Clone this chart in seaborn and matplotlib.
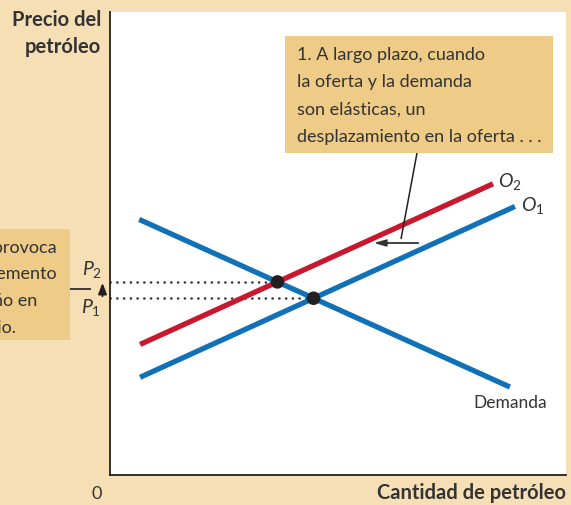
import numpy as np
import pandas as pd
import seaborn as sns
import matplotlib.pyplot as plt
from matplotlib.patches import Rectangle

# endpoints of the three curves (quantity, price) on a 0-10 scale
demand_q = [0.64, 8.77]
demand_p = [5.52, 1.90]
o1_q = [0.66, 8.88]
o1_p = [2.11, 5.80]
o2_q = [0.66, 8.40]
o2_p = [2.82, 6.29]

curve_names = ['Demanda', 'O1', 'O2']
top_note = ['1. A largo plazo, cuando', 'la oferta y la demanda',
            'son elásticas, un', 'desplazamiento en la oferta . . .']
left_note = ['2. . . . provoca', 'un incremento', 'pequeño en', 'el precio.']

BG = '#f6dfb5'
BOX = '#eecb86'
BLUE = '#1071b8'
RED = '#c8172e'
INK = '#333333'

sns.set_style('white')
plt.rcParams['font.family'] = ['Lato', 'DejaVu Sans']
plt.rcParams['mathtext.fontset'] = 'custom'
plt.rcParams['mathtext.it'] = 'Lato:italic'
plt.rcParams['mathtext.rm'] = 'Lato'
plt.rcParams['lines.solid_capstyle'] = 'butt'

df = pd.concat([
    pd.DataFrame({'q': demand_q, 'p': demand_p, 'curva': 'Demanda'}),
    pd.DataFrame({'q': o1_q, 'p': o1_p, 'curva': 'O1'}),
    pd.DataFrame({'q': o2_q, 'p': o2_p, 'curva': 'O2'}),
])


def line_coef(q, p):
    m = (p[1] - p[0]) / (q[1] - q[0])
    return m, p[0] - m * q[0]


def cross(a, b):
    m1, b1 = line_coef(*a)
    m2, b2 = line_coef(*b)
    x = (b2 - b1) / (m1 - m2)
    return x, m1 * x + b1


eq1 = cross((demand_q, demand_p), (o1_q, o1_p))
eq2 = cross((demand_q, demand_p), (o2_q, o2_p))
eq = pd.DataFrame({'q': [eq1[0], eq2[0]], 'p': [eq1[1], eq2[1]]})

W, H = 571, 505
fig = plt.figure(figsize=(W / 100, H / 100), dpi=100, facecolor=BG)
ax = fig.add_axes([110 / W, 30 / H, 456 / W, 463 / H])
ax.set_facecolor('white')


def fp(x, y):
    return x / W, 1 - y / H


sns.lineplot(data=df, x='q', y='p', hue='curva', units='curva', estimator=None,
             palette={'Demanda': BLUE, 'O1': BLUE, 'O2': RED},
             linewidth=3.8, legend=False, sort=False, ax=ax)

for xq, yp in [eq1, eq2]:
    ax.plot([0, xq], [yp, yp], color=INK, lw=1.8, linestyle=(0, (0.1, 2.6)),
            dash_capstyle='round', zorder=1)

sns.scatterplot(data=eq, x='q', y='p', s=95, color='#231f20', edgecolor='none',
                zorder=5, ax=ax)

ax.set_xlim(0, 10)
ax.set_ylim(0, 10)
ax.set_xticks([])
ax.set_yticks([])
ax.set_xlabel('')
ax.set_ylabel('')
for s in ['top', 'right']:
    ax.spines[s].set_visible(False)
for s in ['left', 'bottom']:
    ax.spines[s].set_color('#231f20')
    ax.spines[s].set_linewidth(1.3)

# curve labels
ax.text(8.77 + 0.0, 1.90 - 0.35, 'Demanda', ha='center', va='center',
        fontsize=12.5, color=INK)
fig.text(*fp(498, 182), r'$O_2$', fontsize=14, color=INK, ha='left', va='center')
fig.text(*fp(521, 205), r'$O_1$', fontsize=14, color=INK, ha='left', va='center')

# axis labels
fig.text(*fp(101, 20), 'Precio del', ha='right', va='center', fontsize=14.5,
         fontweight='bold', color=INK)
fig.text(*fp(101, 47), 'petróleo', ha='right', va='center', fontsize=14.5,
         fontweight='bold', color=INK)
fig.text(*fp(566, 493), 'Cantidad de petróleo', ha='right', va='center',
         fontsize=14.5, fontweight='bold', color=INK)
fig.text(*fp(97, 494), '0', ha='center', va='center', fontsize=13, color=INK)

# price labels with small arrow
fig.text(*fp(92, 270), r'$P_2$', ha='center', va='center', fontsize=14, color=INK)
fig.text(*fp(91, 307), r'$P_1$', ha='center', va='center', fontsize=14, color=INK)
ax.annotate('', xy=fp(102.5, 280), xycoords='figure fraction',
            xytext=fp(102.5, 299), textcoords='figure fraction',
            arrowprops=dict(arrowstyle='-|>,head_length=0.65,head_width=0.25',
                            color='#231f20', lw=1.4), annotation_clip=False)
fig.add_artist(plt.Line2D([70 / W, 91 / W], [1 - 289 / H, 1 - 289 / H],
                          color='#231f20', lw=1.2))

# top note box
fig.add_artist(Rectangle(fp(285, 153), 268 / W, 117 / H, facecolor=BOX,
                         edgecolor='none', transform=fig.transFigure, zorder=3))
for i, line in enumerate(top_note):
    fig.text(*fp(297, 55 + 27.3 * i), line, ha='left', va='center',
             fontsize=13, color=INK, zorder=4)
fig.add_artist(plt.Line2D([417 / W, 401 / W], [1 - 153 / H, 1 - 239 / H],
                          color='#231f20', lw=1.1))
ax.annotate('', xy=fp(371, 243), xycoords='figure fraction',
            xytext=fp(421, 243), textcoords='figure fraction',
            arrowprops=dict(arrowstyle='-|>,head_length=0.7,head_width=0.2',
                            color=INK, lw=1.3), annotation_clip=False)

# left note box (cut by the page edge, as in the original)
fig.add_artist(Rectangle(fp(0, 340), 70 / W, 111 / H, facecolor=BOX,
                         edgecolor='none', transform=fig.transFigure, zorder=3))
for line, xr, yy in zip(left_note, [57, 57, 37, 16], [248, 274, 301, 328]):
    fig.text(*fp(xr, yy), line, ha='right', va='center', fontsize=13,
             color=INK, zorder=4)

plt.savefig('out.png', dpi=100, facecolor=BG)
